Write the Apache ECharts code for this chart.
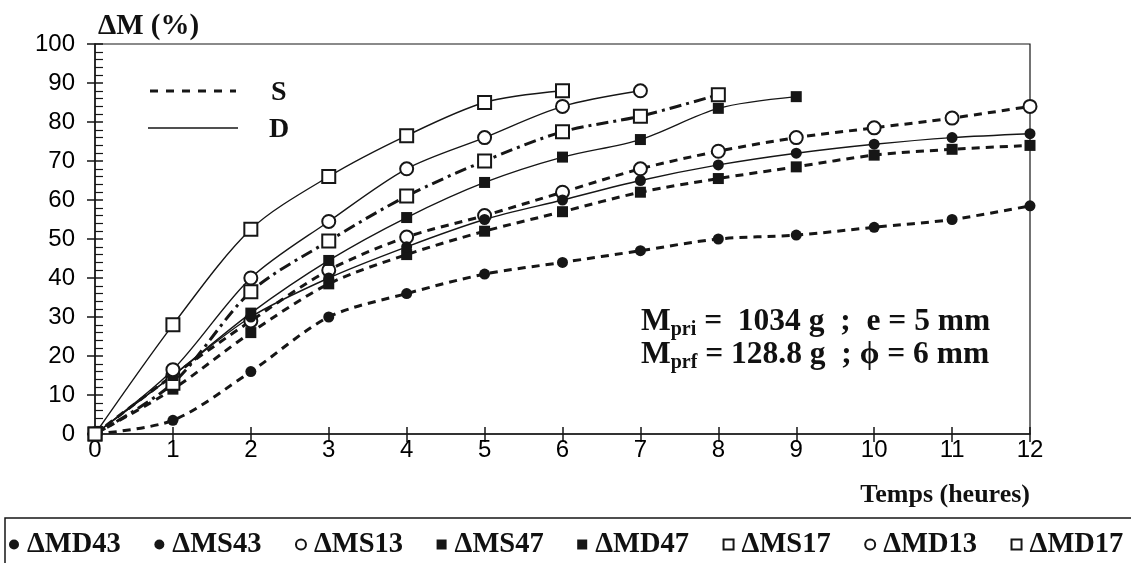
<!DOCTYPE html>
<html>
<head>
<meta charset="utf-8">
<script src="https://cdn.jsdelivr.net/npm/echarts@6/dist/echarts.min.js"></script>
<style>
  html, body { margin: 0; padding: 0; background: #fff; }
  #chart { width: 1131px; height: 563px; }
</style>
</head>
<body>
<div id="chart"></div>
<script>
// Mass loss ΔM (%) versus drying time (hours)
const hours = [0, 1, 2, 3, 4, 5, 6, 7, 8, 9, 10, 11, 12];
const xTickLabels = ['0', '1', '2', '3', '4', '5', '6', '7', '8', '9', '10', '11', '12'];

const seriesNames = ['ΔMD43', 'ΔMS43', 'ΔMS13', 'ΔMS47', 'ΔMD47', 'ΔMS17', 'ΔMD13', 'ΔMD17'];

const dMD43 = [0, 15, 30, 40, 48, 55, 60, 65, 69, 72, 74.3, 76, 77];
const dMS43 = [0, 3.5, 16, 30, 36, 41, 44, 47, 50, 51, 53, 55, 58.5];
const dMS13 = [0, 15, 29, 42, 50.5, 56, 62, 68, 72.5, 76, 78.5, 81, 84];
const dMS47 = [0, 11.5, 26, 38.5, 46, 52, 57, 62, 65.5, 68.5, 71.5, 73, 74];
const dMD47 = [0, 15, 31, 44.5, 55.5, 64.5, 71, 75.5, 83.5, 86.5];
const dMS17 = [0, 13, 36.5, 49.5, 61, 70, 77.5, 81.5, 87];
const dMD13 = [0, 16.5, 40, 54.5, 68, 76, 84, 88];
const dMD17 = [0, 28, 52.5, 66, 76.5, 85, 88];

const INK = '#161616';
const SERIF = '"Liberation Serif", "Times New Roman", "DejaVu Serif", serif';
const SANS = '"Liberation Sans", Arial, sans-serif';

// line styles: S = dashed (thick), D = solid (thin), MS17 = dash-dot
const styleS = { type: [8, 6], width: 3 };
const styleD = { type: 'solid', width: 1.4 };
const styleSD = { type: [12, 5, 3, 5], width: 3 };

function pairs(values) {
  return values.map((v, i) => [hours[i], v]);
}

function lineSeries(name, values, symbol, size, lineStyle) {
  return {
    name: name,
    type: 'line',
    data: pairs(values),
    smooth: 0.3,
    symbol: symbol,
    symbolSize: size,
    showSymbol: true,
    itemStyle: { color: INK, borderColor: INK, borderWidth: symbol.indexOf('empty') === 0 ? 1.5 : 0 },
    lineStyle: Object.assign({ color: INK }, lineStyle),
    emphasis: { disabled: true },
    animation: false
  };
}

const series = [
  lineSeries('ΔMS43', dMS43, 'circle', 11, styleS),
  lineSeries('ΔMS47', dMS47, 'rect', 11, styleS),
  lineSeries('ΔMS13', dMS13, 'emptyCircle', 13, styleS),
  lineSeries('ΔMS17', dMS17, 'emptyRect', 13, styleSD),
  lineSeries('ΔMD43', dMD43, 'circle', 11, styleD),
  lineSeries('ΔMD47', dMD47, 'rect', 11, styleD),
  lineSeries('ΔMD13', dMD13, 'emptyCircle', 13, styleD),
  lineSeries('ΔMD17', dMD17, 'emptyRect', 13, styleD)
];

const legendIcons = {
  'ΔMD43': 'circle', 'ΔMS43': 'circle', 'ΔMS13': 'emptyCircle', 'ΔMS47': 'rect',
  'ΔMD47': 'rect', 'ΔMS17': 'emptyRect', 'ΔMD13': 'emptyCircle', 'ΔMD17': 'emptyRect'
};

const chart = echarts.init(document.getElementById('chart'), null, { renderer: 'canvas' });

const axisLineStyle = { color: INK, width: 1.5 };

const annotationRich = {
  m: { font: 'bold 31.5px ' + SERIF, fill: '#111', lineHeight: 36 },
  s: { font: 'bold 20px ' + SERIF, fill: '#111', verticalAlign: 'bottom', lineHeight: 20 }
};

chart.setOption({
  backgroundColor: '#fff',
  animation: false,
  grid: {
    left: 95, right: 101, top: 44, bottom: 129,
    show: true, borderColor: INK, borderWidth: 1.2, backgroundColor: 'transparent'
  },
  xAxis: [
    {
      type: 'value', min: 0, max: 12, interval: 1,
      axisLine: { show: true, lineStyle: axisLineStyle },
      axisTick: { show: true, inside: false, length: 8, lineStyle: { color: INK, width: 1.5 } },
      axisLabel: {
        margin: 4, color: '#000', fontFamily: SANS, fontSize: 24,
        formatter: v => xTickLabels[hours.indexOf(v)]
      },
      splitLine: { show: false }
    },
    {
      type: 'value', min: 0, max: 12, interval: 1, position: 'bottom', offset: 0,
      axisLine: { show: false },
      axisTick: { show: true, inside: true, length: 7, lineStyle: { color: INK, width: 1.5 } },
      axisLabel: { show: false },
      splitLine: { show: false }
    }
  ],
  yAxis: [
    {
      type: 'value', min: 0, max: 100, interval: 10,
      axisLine: { show: true, lineStyle: axisLineStyle },
      axisTick: { show: true, inside: false, length: 8, lineStyle: { color: INK, width: 1.5 } },
      axisLabel: { margin: 20, color: '#000', fontFamily: SANS, fontSize: 24 },
      splitLine: { show: false }
    },
    {
      type: 'value', min: 0, max: 100, interval: 10, position: 'left', offset: 0,
      axisLine: { show: false },
      axisTick: { show: true, inside: true, length: 8, lineStyle: { color: INK, width: 1.5 } },
      minorTick: { show: true, splitNumber: 5, length: 8, lineStyle: { color: INK, width: 1.2 } },
      axisLabel: { show: false },
      splitLine: { show: false }
    }
  ],
  legend: {
    left: 9, top: 530, width: 1400,
    orient: 'horizontal',
    itemWidth: 10, itemHeight: 10,
    itemGap: 33.5,
    padding: 0,
    selectedMode: false,
    data: seriesNames.map(n => ({ name: n, icon: legendIcons[n] })),
    textStyle: { fontFamily: SERIF, fontWeight: 'bold', fontSize: 28.5, color: '#111', padding: [0, 0, 0, 3] }
  },
  series: series,
  graphic: [
    // legend frame
    { type: 'rect', shape: { x: 5, y: 518, width: 1140, height: 70 }, style: { fill: 'none', stroke: INK, lineWidth: 1.5 }, z: -1 },
    // axis titles
    { type: 'text', left: 98, top: 12, style: { text: 'ΔM (%)', font: 'bold 29px ' + SERIF, fill: '#111' } },
    { type: 'text', right: 101, top: 482, style: { text: 'Temps (heures)', font: 'bold 26px ' + SERIF, fill: '#111' } },
    // line-style key
    { type: 'line', shape: { x1: 150, y1: 91, x2: 236, y2: 91 }, style: { stroke: INK, lineWidth: 3, lineDash: [8, 8] } },
    { type: 'line', shape: { x1: 148, y1: 128, x2: 238, y2: 128 }, style: { stroke: INK, lineWidth: 1.6 } },
    { type: 'text', left: 271, top: 79, style: { text: 'S', font: 'bold 28px ' + SERIF, fill: '#111' } },
    { type: 'text', left: 269, top: 116, style: { text: 'D', font: 'bold 28px ' + SERIF, fill: '#111' } },
    // sample characteristics
    {
      type: 'text', left: 641, top: 306,
      style: { text: '{m|M}{s|pri}{m| =  1034 g  ;  e = 5 mm}', rich: annotationRich }
    },
    {
      type: 'text', left: 641, top: 339,
      style: { text: '{m|M}{s|prf}{m| = 128.8 g  ; ϕ = 6 mm}', rich: annotationRich }
    }
  ]
});
</script>
</body>
</html>
